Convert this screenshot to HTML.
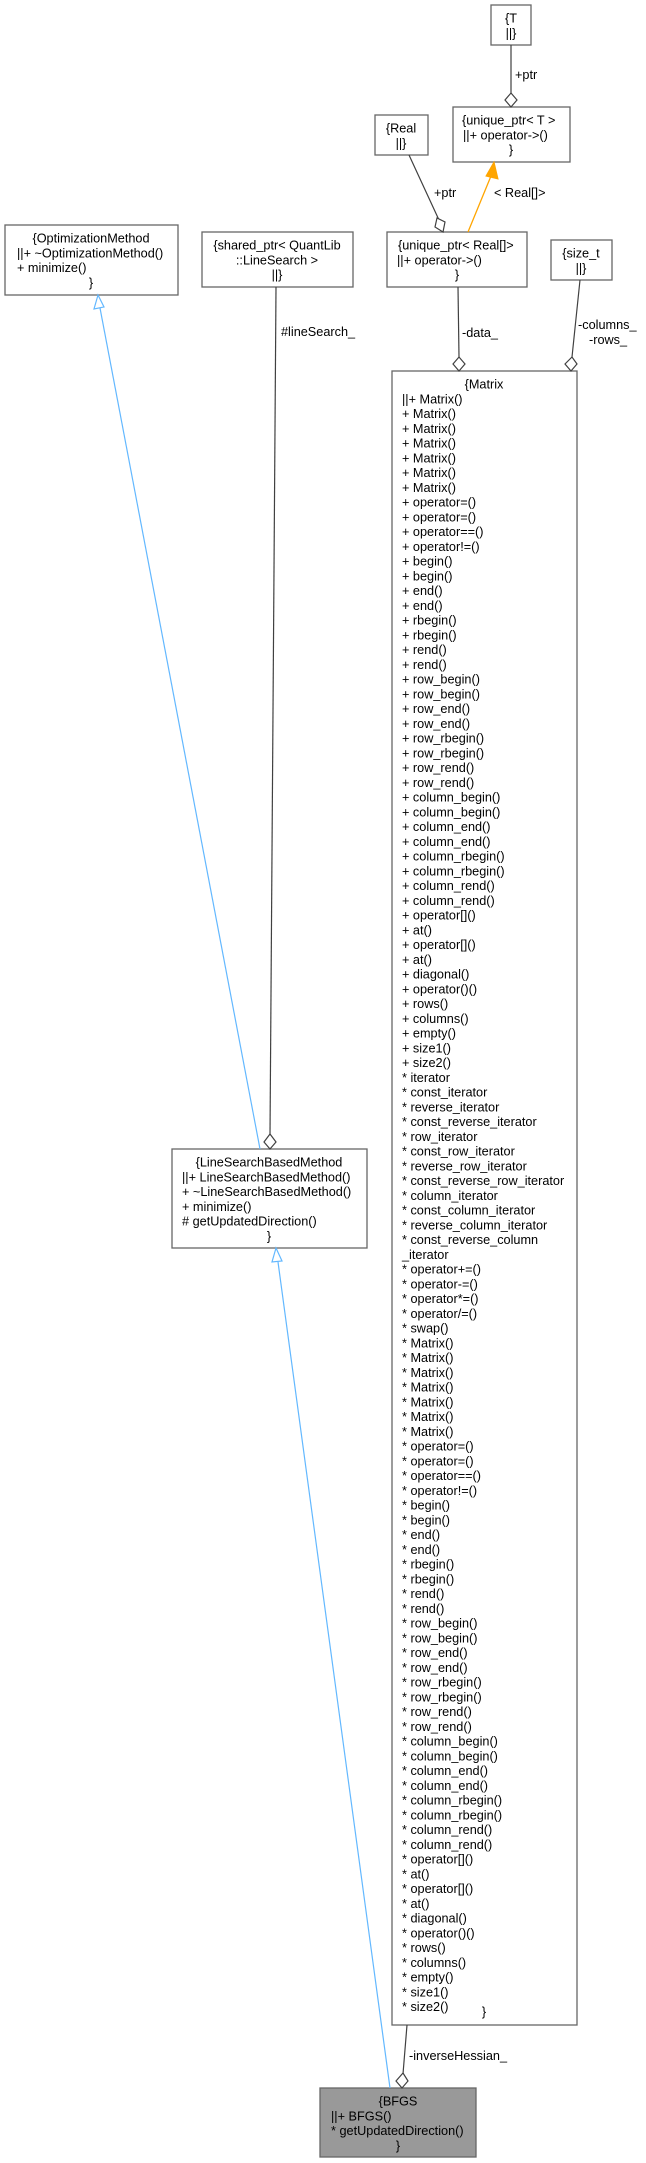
<!DOCTYPE html>
<html><head><meta charset="utf-8"><style>
html,body{margin:0;padding:0;background:#fff;}
svg{display:block;}
text{font-family:"Liberation Sans",Arial,sans-serif;font-size:12.7px;fill:#000;}
.b{fill:#fff;stroke:#666;stroke-width:1.3;}
.e{stroke:#404040;stroke-width:1.2;fill:none;}
.d{fill:#fff;stroke:#404040;stroke-width:1.2;}
.bl{stroke:#63b8ff;stroke-width:1.2;fill:none;}
.tri{fill:#fff;stroke:#63b8ff;stroke-width:1.2;}
</style></head><body>
<svg width="646" height="2163" viewBox="0 0 646 2163" xmlns="http://www.w3.org/2000/svg">
<!-- T -->
<rect class="b" x="491" y="5" width="40" height="40"/>
<text x="511" y="22.5" text-anchor="middle">{T</text>
<text x="511" y="37.3" text-anchor="middle">||}</text>
<!-- unique_ptr<T> -->
<rect class="b" x="453" y="107" width="117" height="55"/>
<text x="462" y="124.5">{unique_ptr&lt; T &gt;</text>
<text x="463" y="139.3">||+ operator-&gt;()</text>
<text x="511" y="154.1" text-anchor="middle">}</text>
<!-- Real -->
<rect class="b" x="375" y="115" width="53" height="40"/>
<text x="401" y="132.5" text-anchor="middle">{Real</text>
<text x="401" y="147.3" text-anchor="middle">||}</text>
<!-- unique_ptr<Real[]> -->
<rect class="b" x="387" y="232" width="140" height="55"/>
<text x="398" y="249.5">{unique_ptr&lt; Real[]&gt;</text>
<text x="397" y="264.3">||+ operator-&gt;()</text>
<text x="457" y="279.1" text-anchor="middle">}</text>
<!-- size_t -->
<rect class="b" x="551" y="240" width="61" height="40"/>
<text x="581" y="257.5" text-anchor="middle">{size_t</text>
<text x="581" y="272.3" text-anchor="middle">||}</text>
<!-- shared_ptr -->
<rect class="b" x="202" y="232" width="151" height="55"/>
<text x="277" y="249.5" text-anchor="middle">{shared_ptr&lt; QuantLib</text>
<text x="277" y="264.3" text-anchor="middle">::LineSearch &gt;</text>
<text x="277" y="279.1" text-anchor="middle">||}</text>
<!-- OptimizationMethod -->
<rect class="b" x="5" y="225" width="173" height="70"/>
<text x="91" y="242.5" text-anchor="middle">{OptimizationMethod</text>
<text x="17" y="257.3">||+ ~OptimizationMethod()</text>
<text x="17" y="272.1">+ minimize()</text>
<text x="91" y="286.9" text-anchor="middle">}</text>
<!-- LineSearchBasedMethod -->
<rect class="b" x="172" y="1149" width="195" height="99"/>
<text x="269" y="1166.5" text-anchor="middle">{LineSearchBasedMethod</text>
<text x="182" y="1181.3">||+ LineSearchBasedMethod()</text>
<text x="182" y="1196.1">+ ~LineSearchBasedMethod()</text>
<text x="182" y="1210.9">+ minimize()</text>
<text x="182" y="1225.7"># getUpdatedDirection()</text>
<text x="269" y="1240.5" text-anchor="middle">}</text>
<!-- BFGS -->
<rect x="320" y="2088" width="156" height="69" fill="#999" stroke="#666" stroke-width="1.3"/>
<text x="398" y="2105.5" text-anchor="middle">{BFGS</text>
<text x="331" y="2120.3">||+ BFGS()</text>
<text x="331" y="2135.1">* getUpdatedDirection()</text>
<text x="398" y="2149.9" text-anchor="middle">}</text>
<!-- Matrix -->
<rect class="b" x="392" y="371" width="185" height="1654"/>
<text x="484" y="388.5" text-anchor="middle">{Matrix</text>
<text x="402" y="388.5">
<tspan x="402" dy="14.75">||+ Matrix()</tspan>
<tspan x="402" dy="14.75">+ Matrix()</tspan>
<tspan x="402" dy="14.75">+ Matrix()</tspan>
<tspan x="402" dy="14.75">+ Matrix()</tspan>
<tspan x="402" dy="14.75">+ Matrix()</tspan>
<tspan x="402" dy="14.75">+ Matrix()</tspan>
<tspan x="402" dy="14.75">+ Matrix()</tspan>
<tspan x="402" dy="14.75">+ operator=()</tspan>
<tspan x="402" dy="14.75">+ operator=()</tspan>
<tspan x="402" dy="14.75">+ operator==()</tspan>
<tspan x="402" dy="14.75">+ operator!=()</tspan>
<tspan x="402" dy="14.75">+ begin()</tspan>
<tspan x="402" dy="14.75">+ begin()</tspan>
<tspan x="402" dy="14.75">+ end()</tspan>
<tspan x="402" dy="14.75">+ end()</tspan>
<tspan x="402" dy="14.75">+ rbegin()</tspan>
<tspan x="402" dy="14.75">+ rbegin()</tspan>
<tspan x="402" dy="14.75">+ rend()</tspan>
<tspan x="402" dy="14.75">+ rend()</tspan>
<tspan x="402" dy="14.75">+ row_begin()</tspan>
<tspan x="402" dy="14.75">+ row_begin()</tspan>
<tspan x="402" dy="14.75">+ row_end()</tspan>
<tspan x="402" dy="14.75">+ row_end()</tspan>
<tspan x="402" dy="14.75">+ row_rbegin()</tspan>
<tspan x="402" dy="14.75">+ row_rbegin()</tspan>
<tspan x="402" dy="14.75">+ row_rend()</tspan>
<tspan x="402" dy="14.75">+ row_rend()</tspan>
<tspan x="402" dy="14.75">+ column_begin()</tspan>
<tspan x="402" dy="14.75">+ column_begin()</tspan>
<tspan x="402" dy="14.75">+ column_end()</tspan>
<tspan x="402" dy="14.75">+ column_end()</tspan>
<tspan x="402" dy="14.75">+ column_rbegin()</tspan>
<tspan x="402" dy="14.75">+ column_rbegin()</tspan>
<tspan x="402" dy="14.75">+ column_rend()</tspan>
<tspan x="402" dy="14.75">+ column_rend()</tspan>
<tspan x="402" dy="14.75">+ operator[]()</tspan>
<tspan x="402" dy="14.75">+ at()</tspan>
<tspan x="402" dy="14.75">+ operator[]()</tspan>
<tspan x="402" dy="14.75">+ at()</tspan>
<tspan x="402" dy="14.75">+ diagonal()</tspan>
<tspan x="402" dy="14.75">+ operator()()</tspan>
<tspan x="402" dy="14.75">+ rows()</tspan>
<tspan x="402" dy="14.75">+ columns()</tspan>
<tspan x="402" dy="14.75">+ empty()</tspan>
<tspan x="402" dy="14.75">+ size1()</tspan>
<tspan x="402" dy="14.75">+ size2()</tspan>
<tspan x="402" dy="14.75">* iterator</tspan>
<tspan x="402" dy="14.75">* const_iterator</tspan>
<tspan x="402" dy="14.75">* reverse_iterator</tspan>
<tspan x="402" dy="14.75">* const_reverse_iterator</tspan>
<tspan x="402" dy="14.75">* row_iterator</tspan>
<tspan x="402" dy="14.75">* const_row_iterator</tspan>
<tspan x="402" dy="14.75">* reverse_row_iterator</tspan>
<tspan x="402" dy="14.75">* const_reverse_row_iterator</tspan>
<tspan x="402" dy="14.75">* column_iterator</tspan>
<tspan x="402" dy="14.75">* const_column_iterator</tspan>
<tspan x="402" dy="14.75">* reverse_column_iterator</tspan>
<tspan x="402" dy="14.75">* const_reverse_column</tspan>
<tspan x="402" dy="14.75">_iterator</tspan>
<tspan x="402" dy="14.75">* operator+=()</tspan>
<tspan x="402" dy="14.75">* operator-=()</tspan>
<tspan x="402" dy="14.75">* operator*=()</tspan>
<tspan x="402" dy="14.75">* operator/=()</tspan>
<tspan x="402" dy="14.75">* swap()</tspan>
<tspan x="402" dy="14.75">* Matrix()</tspan>
<tspan x="402" dy="14.75">* Matrix()</tspan>
<tspan x="402" dy="14.75">* Matrix()</tspan>
<tspan x="402" dy="14.75">* Matrix()</tspan>
<tspan x="402" dy="14.75">* Matrix()</tspan>
<tspan x="402" dy="14.75">* Matrix()</tspan>
<tspan x="402" dy="14.75">* Matrix()</tspan>
<tspan x="402" dy="14.75">* operator=()</tspan>
<tspan x="402" dy="14.75">* operator=()</tspan>
<tspan x="402" dy="14.75">* operator==()</tspan>
<tspan x="402" dy="14.75">* operator!=()</tspan>
<tspan x="402" dy="14.75">* begin()</tspan>
<tspan x="402" dy="14.75">* begin()</tspan>
<tspan x="402" dy="14.75">* end()</tspan>
<tspan x="402" dy="14.75">* end()</tspan>
<tspan x="402" dy="14.75">* rbegin()</tspan>
<tspan x="402" dy="14.75">* rbegin()</tspan>
<tspan x="402" dy="14.75">* rend()</tspan>
<tspan x="402" dy="14.75">* rend()</tspan>
<tspan x="402" dy="14.75">* row_begin()</tspan>
<tspan x="402" dy="14.75">* row_begin()</tspan>
<tspan x="402" dy="14.75">* row_end()</tspan>
<tspan x="402" dy="14.75">* row_end()</tspan>
<tspan x="402" dy="14.75">* row_rbegin()</tspan>
<tspan x="402" dy="14.75">* row_rbegin()</tspan>
<tspan x="402" dy="14.75">* row_rend()</tspan>
<tspan x="402" dy="14.75">* row_rend()</tspan>
<tspan x="402" dy="14.75">* column_begin()</tspan>
<tspan x="402" dy="14.75">* column_begin()</tspan>
<tspan x="402" dy="14.75">* column_end()</tspan>
<tspan x="402" dy="14.75">* column_end()</tspan>
<tspan x="402" dy="14.75">* column_rbegin()</tspan>
<tspan x="402" dy="14.75">* column_rbegin()</tspan>
<tspan x="402" dy="14.75">* column_rend()</tspan>
<tspan x="402" dy="14.75">* column_rend()</tspan>
<tspan x="402" dy="14.75">* operator[]()</tspan>
<tspan x="402" dy="14.75">* at()</tspan>
<tspan x="402" dy="14.75">* operator[]()</tspan>
<tspan x="402" dy="14.75">* at()</tspan>
<tspan x="402" dy="14.75">* diagonal()</tspan>
<tspan x="402" dy="14.75">* operator()()</tspan>
<tspan x="402" dy="14.75">* rows()</tspan>
<tspan x="402" dy="14.75">* columns()</tspan>
<tspan x="402" dy="14.75">* empty()</tspan>
<tspan x="402" dy="14.75">* size1()</tspan>
<tspan x="402" dy="14.75">* size2()</tspan>
</text>
<text x="484" y="2016" text-anchor="middle">}</text>

<!-- edges -->
<!-- T -> unique_ptr<T> -->
<line class="e" x1="511" y1="45" x2="511" y2="93"/>
<polygon class="d" points="511,107 505,100 511,93 517,100"/>
<text x="515" y="79">+ptr</text>
<!-- Real -> unique_ptr<Real[]> -->
<line class="e" x1="409" y1="155" x2="439" y2="220"/>
<polygon class="d" points="443,232 435,227 437,218 445,222"/>
<text x="434" y="197">+ptr</text>
<!-- orange template -->
<line x1="468" y1="232" x2="491" y2="176" stroke="#ffa500" stroke-width="1.3"/>
<polygon points="494,162 486,176 498,179" fill="#ffa500" stroke="#ffa500"/>
<text x="494" y="197">&lt; Real[]&gt;</text>
<!-- data_ -->
<line class="e" x1="458" y1="287" x2="459" y2="357"/>
<polygon class="d" points="459,371 453,364 459,357 465,364"/>
<text x="462" y="337">-data_</text>
<!-- columns_/rows_ -->
<line class="e" x1="580" y1="280" x2="572" y2="357"/>
<polygon class="d" points="571,371 565,364 572,357 577,364"/>
<text x="578" y="329">-columns_</text>
<text x="589" y="344">-rows_</text>
<!-- lineSearch_ -->
<line class="e" x1="276" y1="287" x2="270" y2="1135"/>
<polygon class="d" points="270,1149 264,1142 270,1134 276,1142"/>
<text x="281" y="336">#lineSearch_</text>
<!-- OptimizationMethod inheritance -->
<line class="bl" x1="260" y1="1149" x2="100" y2="308"/>
<polygon class="tri" points="98,295 94,309 104,307"/>
<!-- LineSearch -> BFGS -->
<line class="bl" x1="390" y1="2088" x2="278" y2="1262"/>
<polygon class="tri" points="276,1248 272,1262 282,1261"/>
<!-- inverseHessian_ -->
<line class="e" x1="407" y1="2025" x2="403" y2="2074"/>
<polygon class="d" points="402,2088 396,2081 403,2073 408,2081"/>
<text x="409" y="2060">-inverseHessian_</text>
</svg>
</body></html>
